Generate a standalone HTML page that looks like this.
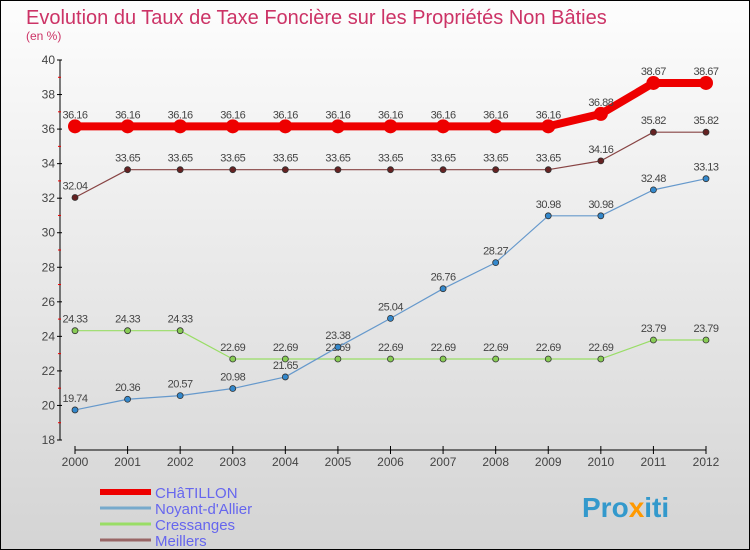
<!DOCTYPE html>
<html><head><meta charset="utf-8"><style>
body{margin:0;width:750px;height:550px;overflow:hidden;font-family:"Liberation Sans",sans-serif}
svg{display:block}
</style></head><body>
<svg width="750" height="550">
<defs><linearGradient id="bg" x1="0" y1="0" x2="0" y2="1"><stop offset="0" stop-color="#fdfdfd"/><stop offset="1" stop-color="#d4d4d4"/></linearGradient></defs>
<rect x="0.5" y="0.5" width="749" height="549" fill="url(#bg)" stroke="#000"/>
<text x="26" y="24" font-size="20" fill="#cc3366">Evolution du Taux de Taxe Foncière sur les Propriétés Non Bâties</text>
<text x="26" y="40" font-size="12" fill="#cc3366">(en %)</text>
<g id="axes"></g>
<g id="series"></g>
<g id="legend"></g>
<text x="582" y="517" font-size="28" font-weight="bold" fill="#3399cc">Pro<tspan fill="#ff9900">x</tspan>iti</text>
</svg>
<script>
const years=[2000,2001,2002,2003,2004,2005,2006,2007,2008,2009,2010,2011,2012];
const yTicks=[18,20,22,24,26,28,30,32,34,36,38,40];
const chatillon=[36.16,36.16,36.16,36.16,36.16,36.16,36.16,36.16,36.16,36.16,36.88,38.67,38.67];
const noyant=[19.74,20.36,20.57,20.98,21.65,23.38,25.04,26.76,28.27,30.98,30.98,32.48,33.13];
const cressanges=[24.33,24.33,24.33,22.69,22.69,22.69,22.69,22.69,22.69,22.69,22.69,23.79,23.79];
const meillers=[32.04,33.65,33.65,33.65,33.65,33.65,33.65,33.65,33.65,33.65,34.16,35.82,35.82];
const names=["CHâTILLON","Noyant-d'Allier","Cressanges","Meillers"];
const NS="http://www.w3.org/2000/svg";
const X=i=>75+i*(706-75)/(years.length-1);
const Y=v=>60+(40-v)*(380/22);
function mk(p,t,a){const e=document.createElementNS(NS,t);for(const k in a)e.setAttribute(k,a[k]);p.appendChild(e);return e;}
const ax=document.getElementById('axes');
const yl=mk(ax,'line',{x1:60,y1:60,x2:60,y2:440,stroke:'#000'});


yTicks.forEach(v=>{
 mk(ax,'line',{x1:57,y1:Y(v),x2:62,y2:Y(v),stroke:'#000'});
 if(v<40) mk(ax,'line',{x1:58,y1:Y(v+1),x2:61,y2:Y(v+1),stroke:'#e00'});
 const t=mk(ax,'text',{x:55,y:Y(v)+4,'font-size':12,'text-anchor':'end',fill:'#444'});t.textContent=v;
 
 
});
const xl=mk(ax,'line',{x1:75,y1:450,x2:706,y2:450,stroke:'#000'});


years.forEach((y,i)=>{
 mk(ax,'line',{x1:X(i),y1:446,x2:X(i),y2:454,stroke:'#000'});
 const t=mk(ax,'text',{x:X(i),y:466,'font-size':12,'text-anchor':'middle',fill:'#444'});t.textContent=y;
 
 
});
const sg=document.getElementById('series');
function series(vals,color,dot,w,r,name){
 const g=mk(sg,'g',{});
 
 
 mk(g,'polyline',{points:vals.map((v,i)=>X(i)+','+Y(v)).join(' '),fill:'none',stroke:color,'stroke-width':w,'stroke-linejoin':'round'});
 vals.forEach((v,i)=>{
  const c=mk(g,'circle',{cx:X(i),cy:Y(v),r:r,fill:dot,stroke:'#333','stroke-width':r>5?0:0.8});
  
  
  const t=mk(g,'text',{x:X(i),y:Y(v)-8,'font-size':11,'text-anchor':'middle',fill:'#444','letter-spacing':'-0.5'});
  t.textContent=v.toFixed(2);
  
  
 });
}
series(meillers,'#884444','#662222',1.2,3,'meillers-series');
series(cressanges,'#99dd66','#88cc55',1.2,3,'cressanges-series');
series(noyant,'#6699cc','#3388cc',1.2,3,'noyant-series');
series(chatillon,'#ee0000','#ee0000',8,7,'chatillon-series');
const lg=document.getElementById('legend');
const lc=['#ee0000','#77aacc','#99dd66','#996666'];
names.forEach((n,i)=>{
 const y=492+i*16;
 const g=mk(lg,'g',{});
 
 
 mk(g,'line',{x1:100,y1:y,x2:151,y2:y,stroke:lc[i],'stroke-width':i==0?6:3});
 const t=mk(g,'text',{x:155,y:y+6,'font-size':15,fill:'#6666ee'});t.textContent=n;
});
</script>
</body></html>
